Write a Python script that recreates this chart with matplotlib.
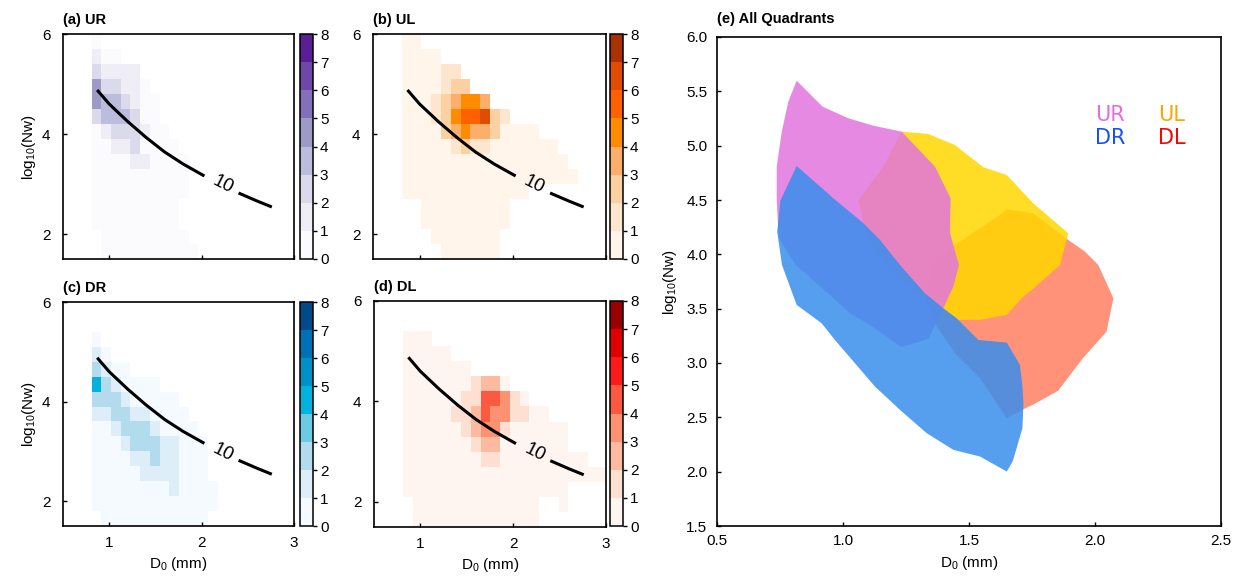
import numpy as np
import matplotlib
matplotlib.use("Agg")
import matplotlib.pyplot as plt
from matplotlib.colors import ListedColormap, BoundaryNorm

plt.rcParams['font.family'] = ['Liberation Sans', 'DejaVu Sans']
plt.rcParams['mathtext.fontset'] = 'custom'
plt.rcParams['mathtext.rm'] = 'Liberation Sans'
plt.rcParams['mathtext.it'] = 'Liberation Sans:italic'

n = np.nan

# bin edges of the frequency grids (D0 in mm, log10 Nw), rows go top -> bottom
d0_edges = 0.81 + 0.105 * np.arange(22)
nw_edges = 6.0 - 0.3 * np.arange(16)

# frequency (%) per bin
freq_ur = [
    [.5, n, n, n, n, n, n, n, n, n, n, n, n, n, n, n, n, n, n, n, n],
    [1.5, .5, .5, n, n, n, n, n, n, n, n, n, n, n, n, n, n, n, n, n, n],
    [2.5, 1.5, 1.5, 1.5, 1.5, n, n, n, n, n, n, n, n, n, n, n, n, n, n, n, n],
    [4.5, 2.5, 2.5, 1.5, 1.5, .5, n, n, n, n, n, n, n, n, n, n, n, n, n, n, n],
    [4.5, 3.5, 3.5, 2.5, 1.5, .5, .5, n, n, n, n, n, n, n, n, n, n, n, n, n, n],
    [2.5, 3.5, 3.5, 3.5, 2.5, .5, .5, n, n, n, n, n, n, n, n, n, n, n, n, n, n],
    [.5, 1.5, 2.5, 2.5, 2.5, 1.5, .5, .5, n, n, n, n, n, n, n, n, n, n, n, n, n],
    [.5, .5, 1.5, 1.5, 2.5, .5, .5, .5, .5, n, n, n, n, n, n, n, n, n, n, n, n],
    [.5, .5, .5, .5, 1.5, 1.5, .5, .5, .5, .5, n, n, n, n, n, n, n, n, n, n, n],
    [.5, .5, .5, .5, .5, .5, .5, .5, .5, .5, n, n, n, n, n, n, n, n, n, n, n],
    [.5, .5, .5, .5, .5, .5, .5, .5, .5, .5, n, n, n, n, n, n, n, n, n, n, n],
    [.5, .5, .5, .5, .5, .5, .5, .5, .5, n, n, n, n, n, n, n, n, n, n, n, n],
    [.5, .5, .5, .5, .5, .5, .5, .5, .5, n, n, n, n, n, n, n, n, n, n, n, n],
    [n, .5, .5, .5, .5, .5, .5, .5, .5, .5, n, n, n, n, n, n, n, n, n, n, n],
    [n, .5, .5, .5, .5, .5, .5, .5, .5, .5, .5, n, n, n, n, n, n, n, n, n, n],
]

freq_ul = [
    [.5, .5, n, n, n, n, n, n, n, n, n, n, n, n, n, n, n, n, n, n, n],
    [.5, .5, .5, .5, n, n, n, n, n, n, n, n, n, n, n, n, n, n, n, n, n],
    [.5, .5, .5, .5, 1.5, 1.5, n, n, n, n, n, n, n, n, n, n, n, n, n, n, n],
    [.5, .5, .5, .5, 1.5, 2.5, 2.5, n, n, n, n, n, n, n, n, n, n, n, n, n, n],
    [.5, .5, .5, 1.5, 2.5, 3.5, 4.5, 4.5, 3.5, n, n, n, n, n, n, n, n, n, n, n, n],
    [.5, .5, .5, 1.5, 2.5, 4.5, 5.5, 5.5, 6.5, 2.5, 1.5, n, n, n, n, n, n, n, n, n, n],
    [.5, .5, .5, .5, 2.5, 3.5, 4.5, 3.5, 3.5, 2.5, .5, .5, .5, .5, n, n, n, n, n, n, n],
    [.5, .5, .5, .5, .5, 1.5, 2.5, 1.5, 1.5, .5, .5, .5, .5, .5, .5, .5, n, n, n, n, n],
    [.5, .5, .5, .5, .5, .5, .5, .5, .5, .5, .5, .5, .5, .5, .5, .5, .5, n, n, n, n],
    [.5, .5, .5, .5, .5, .5, .5, .5, .5, .5, .5, .5, .5, .5, .5, .5, .5, .5, n, n, n],
    [.5, .5, .5, .5, .5, .5, .5, .5, .5, .5, .5, .5, .5, n, n, n, n, n, n, n, n],
    [n, n, .5, .5, .5, .5, .5, .5, .5, .5, .5, n, n, n, n, n, n, n, n, n, n],
    [n, n, .5, .5, .5, .5, .5, .5, .5, .5, .5, n, n, n, n, n, n, n, n, n, n],
    [n, n, n, .5, .5, .5, .5, .5, .5, .5, n, n, n, n, n, n, n, n, n, n, n],
    [n, n, n, n, .5, .5, .5, .5, .5, .5, n, n, n, n, n, n, n, n, n, n, n],
]

freq_dr = [
    [n, n, n, n, n, n, n, n, n, n, n, n, n, n, n, n, n, n, n, n, n],
    [n, n, n, n, n, n, n, n, n, n, n, n, n, n, n, n, n, n, n, n, n],
    [.5, n, n, n, n, n, n, n, n, n, n, n, n, n, n, n, n, n, n, n, n],
    [1.5, .5, n, n, n, n, n, n, n, n, n, n, n, n, n, n, n, n, n, n, n],
    [2.5, 1.5, .5, .5, n, n, n, n, n, n, n, n, n, n, n, n, n, n, n, n, n],
    [4.5, 2.5, 1.5, .5, .5, .5, .5, n, n, n, n, n, n, n, n, n, n, n, n, n, n],
    [2.5, 2.5, 2.5, 1.5, .5, .5, .5, .5, .5, n, n, n, n, n, n, n, n, n, n, n, n],
    [1.5, 1.5, 2.5, 2.5, 1.5, 1.5, .5, .5, .5, .5, n, n, n, n, n, n, n, n, n, n, n],
    [.5, .5, 1.5, 2.5, 2.5, 2.5, 1.5, .5, .5, .5, .5, n, n, n, n, n, n, n, n, n, n],
    [.5, .5, .5, 1.5, 2.5, 2.5, 2.5, 1.5, 1.5, .5, .5, .5, n, n, n, n, n, n, n, n, n],
    [.5, .5, .5, .5, 1.5, 1.5, 2.5, 1.5, 1.5, .5, .5, .5, n, n, n, n, n, n, n, n, n],
    [.5, .5, .5, .5, .5, 1.5, 1.5, 1.5, 1.5, .5, .5, .5, n, n, n, n, n, n, n, n, n],
    [.5, .5, .5, .5, .5, .5, .5, .5, 1.5, .5, .5, .5, .5, n, n, n, n, n, n, n, n],
    [.5, .5, .5, .5, .5, .5, .5, .5, .5, .5, .5, .5, .5, n, n, n, n, n, n, n, n],
    [n, .5, .5, .5, .5, .5, .5, .5, .5, .5, .5, .5, n, n, n, n, n, n, n, n, n],
]

freq_dl = [
    [n, n, n, n, n, n, n, n, n, n, n, n, n, n, n, n, n, n, n, n, n],
    [n, n, n, n, n, n, n, n, n, n, n, n, n, n, n, n, n, n, n, n, n],
    [.5, .5, .5, n, n, n, n, n, n, n, n, n, n, n, n, n, n, n, n, n, n],
    [.5, .5, .5, .5, .5, n, n, n, n, n, n, n, n, n, n, n, n, n, n, n, n],
    [.5, .5, .5, .5, .5, .5, .5, n, n, n, n, n, n, n, n, n, n, n, n, n, n],
    [.5, .5, .5, .5, .5, .5, .5, 1.5, 2.5, 2.5, .5, n, n, n, n, n, n, n, n, n, n],
    [.5, .5, .5, .5, .5, .5, 1.5, 1.5, 4.5, 4.5, 3.5, 1.5, .5, n, n, n, n, n, n, n, n],
    [.5, .5, .5, .5, .5, 1.5, 1.5, 2.5, 4.5, 3.5, 3.5, 1.5, 1.5, .5, .5, n, n, n, n, n, n],
    [.5, .5, .5, .5, .5, .5, 1.5, 2.5, 3.5, 3.5, 1.5, .5, .5, .5, .5, .5, .5, n, n, n, n],
    [.5, .5, .5, .5, .5, .5, .5, 1.5, 2.5, 2.5, .5, .5, .5, .5, .5, .5, .5, n, n, n, n],
    [.5, .5, .5, .5, .5, .5, .5, .5, 1.5, 1.5, .5, .5, .5, .5, .5, .5, .5, .5, .5, n, n],
    [.5, .5, .5, .5, .5, .5, .5, .5, .5, .5, .5, .5, .5, .5, .5, .5, .5, .5, .5, .5, .5],
    [.5, .5, .5, .5, .5, .5, .5, .5, .5, .5, .5, .5, .5, .5, .5, .5, .5, n, n, n, n],
    [n, .5, .5, .5, .5, .5, .5, .5, .5, .5, .5, .5, .5, .5, n, n, .5, n, n, n, n],
    [n, .5, .5, .5, .5, .5, .5, .5, .5, .5, .5, .5, .5, .5, n, n, n, n, n, n, n],
]

# colour levels of the four colour bars (0-1, 1-2, ... 7-8 %)
cols_ur = ['#fbfafd', '#efedf5', '#dadaeb', '#bcbddc', '#9e9ac8', '#8470b8', '#6e48a6', '#5a1f94']
cols_ul = ['#fff5eb', '#fee6ce', '#fdd0a2', '#fdae6b', '#ff8c00', '#ff6000', '#e04c00', '#a83300']
cols_dr = ['#f4faff', '#deeef8', '#b2dcee', '#6ccbe3', '#00b2dc', '#0090c8', '#0070b4', '#004a88']
cols_dl = ['#fff5f0', '#fee0d2', '#fcbba1', '#fc9272', '#fb5a40', '#ff1a1a', '#e00000', '#990000']

# R = 10 mm/h line in the D0-Nw plane (two pieces around its label)
line_d0_a = [0.87, 1.0, 1.2, 1.4, 1.6, 1.8, 2.03]
line_nw_a = [4.88, 4.60, 4.25, 3.93, 3.64, 3.40, 3.16]
line_d0_b = [2.40, 2.60, 2.76]
line_nw_b = [2.82, 2.66, 2.54]

# outlines of the main distribution of each quadrant
ur_d0 = [0.816, 0.919, 1.021, 1.120, 1.233, 1.365, 1.427, 1.425, 1.460, 1.438, 1.398, 1.365,
         1.338, 1.233, 1.107, 1.028, 0.962, 0.813, 0.750, 0.743, 0.737, 0.737, 0.757, 0.783]
ur_nw = [5.598, 5.359, 5.252, 5.184, 5.129, 4.807, 4.516, 4.194, 3.902, 3.703, 3.504, 3.350,
         3.222, 3.145, 3.350, 3.458, 3.596, 3.902, 4.132, 4.224, 4.500, 4.807, 5.129, 5.405]
ul_d0 = [1.233, 1.338, 1.444, 1.557, 1.650, 1.755, 1.894, 1.861, 1.749, 1.709, 1.650, 1.544,
         1.458, 1.392, 1.325, 1.233, 1.173, 1.107, 1.081, 1.061, 1.160]
ul_nw = [5.129, 5.108, 5.006, 4.801, 4.730, 4.470, 4.194, 3.902, 3.672, 3.596, 3.443, 3.397,
         3.397, 3.504, 3.611, 3.749, 3.902, 4.132, 4.286, 4.500, 4.807]
dl_d0 = [1.438, 1.623, 1.650, 1.755, 1.894, 1.960, 2.013, 2.073, 2.046, 1.951, 1.929, 1.854,
         1.757, 1.712, 1.650, 1.544, 1.444, 1.372, 1.325, 1.352]
dl_nw = [4.080, 4.362, 4.415, 4.378, 4.132, 4.025, 3.902, 3.596, 3.289, 3.042, 2.975, 2.745,
         2.620, 2.570, 2.492, 2.860, 3.090, 3.335, 3.611, 3.902]
dr_d0 = [0.816, 0.962, 1.081, 1.147, 1.226, 1.325, 1.398, 1.451, 1.537, 1.650, 1.702, 1.712,
         1.716, 1.712, 1.674, 1.650, 1.544, 1.438, 1.332, 1.226, 1.127, 0.968, 0.915, 0.816,
         0.758, 0.739, 0.751]
dr_nw = [4.813, 4.516, 4.286, 4.132, 3.902, 3.642, 3.504, 3.412, 3.212, 3.188, 2.983, 2.789,
         2.620, 2.400, 2.098, 2.001, 2.139, 2.201, 2.354, 2.569, 2.783, 3.212, 3.366, 3.535,
         3.902, 4.206, 4.492]

W, H = 1242, 577
fig = plt.figure(figsize=(W / 100, H / 100), dpi=100)


def box(x0, y0, x1, y1):
    # pixel box -> figure fraction
    return [x0 / W, 1 - y1 / H, (x1 - x0) / W, (y1 - y0) / H]


def small_panel(ax_box, cb_box, freq, colors, title, xlab, ylab):
    ax = fig.add_axes(box(*ax_box))
    cax = fig.add_axes(box(*cb_box))
    cmap = ListedColormap(colors)
    norm = BoundaryNorm(np.arange(9), 8)
    mesh = ax.pcolormesh(d0_edges, nw_edges, np.ma.masked_invalid(np.array(freq)),
                         cmap=cmap, norm=norm, shading='flat')
    ax.plot(line_d0_a, line_nw_a, color='black', lw=2.2, solid_capstyle='butt')
    ax.plot(line_d0_b, line_nw_b, color='black', lw=2.2, solid_capstyle='butt')
    ax.text(2.23, 2.98, '10', fontsize=13.5, rotation=-27, ha='center', va='center')
    ax.set_xlim(0.5, 3.0)
    ax.set_ylim(1.5, 6.0)
    ax.set_xticks([1, 2, 3])
    ax.set_yticks([2, 4, 6])
    ax.tick_params(labelsize=11, length=3, width=1, direction='in')
    ax.tick_params(axis='y', pad=9)
    ax.tick_params(axis='x', pad=7)
    if xlab:
        ax.set_xlabel(r'D$_0$ (mm)', fontsize=11, labelpad=4)
    else:
        ax.set_xticklabels([])
    if ylab:
        ax.set_ylabel(r'log$_{10}$(Nw)', fontsize=11, labelpad=3)
    ax.set_title(title, loc='left', fontsize=10.5, fontweight='bold', pad=7)
    for s in ax.spines.values():
        s.set_linewidth(1.2)
    cb = fig.colorbar(mesh, cax=cax, ticks=np.arange(9))
    cb.outline.set_linewidth(1.1)
    cax.tick_params(labelsize=11, length=3, width=1, pad=2)


small_panel((63, 34, 294, 259), (300, 34, 313, 259), freq_ur, cols_ur, '(a) UR', False, True)
small_panel((373, 34, 606, 259), (610, 34, 623, 259), freq_ul, cols_ul, '(b) UL', False, False)
small_panel((63, 302, 294, 526), (300, 302, 313, 526), freq_dr, cols_dr, '(c) DR', True, True)
small_panel((374, 301, 606, 527), (610, 301, 623, 526), freq_dl, cols_dl, '(d) DL', True, False)

# (e) all quadrants together
ax = fig.add_axes(box(717, 37, 1221, 526))
alpha = 0.85
ax.fill(dl_d0, dl_nw, color='#ff7f60', alpha=alpha, lw=0)
ax.fill(ul_d0, ul_nw, color='#ffd700', alpha=alpha, lw=0)
ax.fill(ur_d0, ur_nw, color='#e275de', alpha=alpha, lw=0)
ax.fill(dr_d0, dr_nw, color='#388eed', alpha=alpha, lw=0)
ax.set_xlim(0.5, 2.5)
ax.set_ylim(1.5, 6.0)
ax.set_xticks(np.arange(0.5, 2.51, 0.5))
ax.set_yticks(np.arange(1.5, 6.01, 0.5))
ax.xaxis.set_major_formatter('{x:.1f}')
ax.yaxis.set_major_formatter('{x:.1f}')
ax.tick_params(labelsize=11, length=3, width=1, direction='in')
ax.tick_params(axis='y', pad=7)
ax.tick_params(axis='x', pad=6)
ax.set_xlabel(r'D$_0$ (mm)', fontsize=11, labelpad=4)
ax.set_ylabel(r'log$_{10}$(Nw)', fontsize=11, labelpad=5)
ax.set_title('(e) All Quadrants', loc='left', fontsize=10.5, fontweight='bold', pad=10)
for s in ax.spines.values():
    s.set_linewidth(1.2)

leg = dict(fontsize=15, va='center', ha='left', family='DejaVu Sans')
ax.text(2.0, 5.28, 'UR', color='#e070e0', **leg)
ax.text(2.25, 5.28, 'UL', color='#ffa500', **leg)
ax.text(2.0, 5.07, 'DR', color='#1450ff', **leg)
ax.text(2.25, 5.07, 'DL', color='#ff0000', **leg)

fig.savefig('out.png', dpi=100)
